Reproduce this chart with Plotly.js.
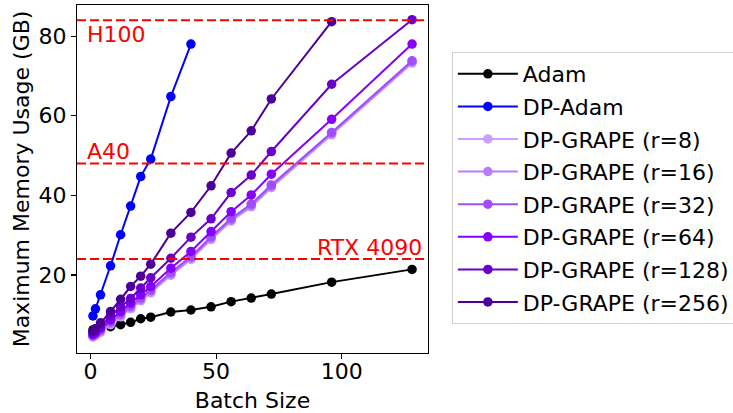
<!DOCTYPE html>
<html>
<head>
<meta charset="utf-8">
<script src="https://cdn.plot.ly/plotly-3.0.1.min.js"></script>
<style>html,body{margin:0;padding:0;background:#fff;}#chart{width:733px;height:413px;}</style>
</head>
<body>
<div id="chart"></div>
<script>
const batchSizes = [1, 2, 4, 8, 12, 16, 20, 24, 32, 40, 48, 56, 64, 72, 96, 128];
const adam   = [6.2, 6.4, 6.6, 7.0, 7.5, 8.1, 9.0, 9.4, 10.7, 11.2, 12.0, 13.3, 14.2, 15.2, 18.2, 21.4];
const dpAdam = [9.7, 11.5, 15.0, 22.3, 30.1, 37.3, 44.7, 49.1, 64.8, 78.0];
const grapeR8   = [4.4, 4.8, 5.6, 7.5, 9.5, 11.5, 13.5, 15.5, 19.9, 23.9, 28.9, 33.5, 37.1, 41.9, 55.2, 73.2];
const grapeR16  = [4.6, 5.0, 5.9, 7.8, 9.8, 11.8, 13.8, 15.8, 20.2, 24.2, 29.2, 33.8, 37.4, 42.2, 55.5, 73.5];
const grapeR32  = [4.8, 5.2, 6.2, 8.2, 10.2, 12.2, 14.2, 16.2, 20.6, 24.6, 29.6, 34.2, 37.8, 42.6, 55.8, 73.8];
const grapeR64  = [5.0, 5.5, 6.6, 8.7, 10.8, 12.9, 15.0, 17.1, 21.7, 25.9, 30.9, 35.9, 40.1, 45.3, 59.1, 78.0];
const grapeR128 = [5.5, 6.1, 7.4, 9.7, 12.0, 14.1, 16.7, 19.3, 24.2, 29.5, 34.1, 40.7, 45.1, 51.0, 67.9, 84.1];
const grapeR256 = [5.8, 6.5, 8.0, 10.8, 13.9, 17.1, 19.7, 22.7, 30.5, 35.7, 42.4, 50.6, 56.2, 64.2, 83.6];
const gpuNames  = ["H100", "A40", "RTX 4090"];
const gpuMemory = [84, 48, 24];

const seriesNames = ["Adam", "DP-Adam", "DP-GRAPE (r=8)", "DP-GRAPE (r=16)", "DP-GRAPE (r=32)", "DP-GRAPE (r=64)", "DP-GRAPE (r=128)", "DP-GRAPE (r=256)"];
const seriesValues = [adam, dpAdam, grapeR8, grapeR16, grapeR32, grapeR64, grapeR128, grapeR256];
const seriesColors = ["#000000", "#0000ff", "#c9a0ff", "#b87cff", "#a14dff", "#8400ff", "#6a00cc", "#4d0099"];

const FONT = "DejaVu Sans, sans-serif";
const FS = 22;
const traces = seriesValues.map((vals, i) => ({
  type: "scatter",
  mode: "lines+markers",
  name: seriesNames[i],
  legendgroup: "g" + i,
  x: batchSizes.slice(0, vals.length),
  y: vals,
  line: {color: seriesColors[i], width: 2},
  marker: {color: seriesColors[i], size: 9.5}
}));

const shapes = gpuMemory.map(m => ({
  type: "line", xref: "paper", x0: 0, x1: 1, yref: "y", y0: m, y1: m,
  line: {color: "#ff0000", width: 2, dash: "9px,4px"}, layer: "above"
}));

const labelPos = [
  {x: -1.9, y: 80.3, xanchor: "left"},
  {x: -1.9, y: 51.0, xanchor: "left"},
  {x: 132.4, y: 26.9, xanchor: "right"}
];
const annotations = gpuNames.map((n, i) => ({
  text: n, xref: "x", yref: "y", x: labelPos[i].x, y: labelPos[i].y,
  xanchor: labelPos[i].xanchor, yanchor: "middle", showarrow: false,
  font: {family: FONT, size: FS, color: "#ff0000"}, borderpad: 0
}));

const layout = {
  width: 733, height: 413,
  margin: {l: 77, r: 305, t: 5, b: 60, autoexpand: false},
  paper_bgcolor: "#ffffff", plot_bgcolor: "#ffffff",
  font: {family: FONT, size: FS, color: "#000000"},
  showlegend: true,
  xaxis: {
    range: [-5.35, 134.35], tickvals: [0, 50, 100], ticktext: ["0", "50", "100"],
    showgrid: false, zeroline: false, showline: true, mirror: true, automargin: false,
    linecolor: "#000000", linewidth: 1.1, ticks: "outside", ticklen: 5, tickwidth: 1.1, tickcolor: "#000",
    ticklabelstandoff: -7,
    tickfont: {family: FONT, size: FS, color: "#000"},
    title: {text: "Batch Size", font: {family: FONT, size: FS, color: "#000"}, standoff: 10}
  },
  yaxis: {
    range: [0.4, 87.8], tickvals: [20, 40, 60, 80], ticktext: ["20", "40", "60", "80"],
    showgrid: false, zeroline: false, showline: true, mirror: true, automargin: false,
    linecolor: "#000000", linewidth: 1.1, ticks: "outside", ticklen: 5, tickwidth: 1.1, tickcolor: "#000",
    tickfont: {family: FONT, size: FS, color: "#000"},
    title: {text: "Maximum Memory Usage (GB)", font: {family: FONT, size: FS, color: "#000"}, standoff: 2}
  },
  legend: {
    x: 1.068, y: 0.865, xanchor: "left", yanchor: "top",
    bgcolor: "#ffffff", bordercolor: "#d0d0d0", borderwidth: 1,
    font: {family: FONT, size: FS, color: "#000"},
    traceorder: "grouped", tracegroupgap: 1, itemwidth: 60
  },
  shapes: shapes,
  annotations: annotations
};

Plotly.newPlot("chart", traces, layout, {displayModeBar: false, staticPlot: true});
</script>
</body>
</html>
